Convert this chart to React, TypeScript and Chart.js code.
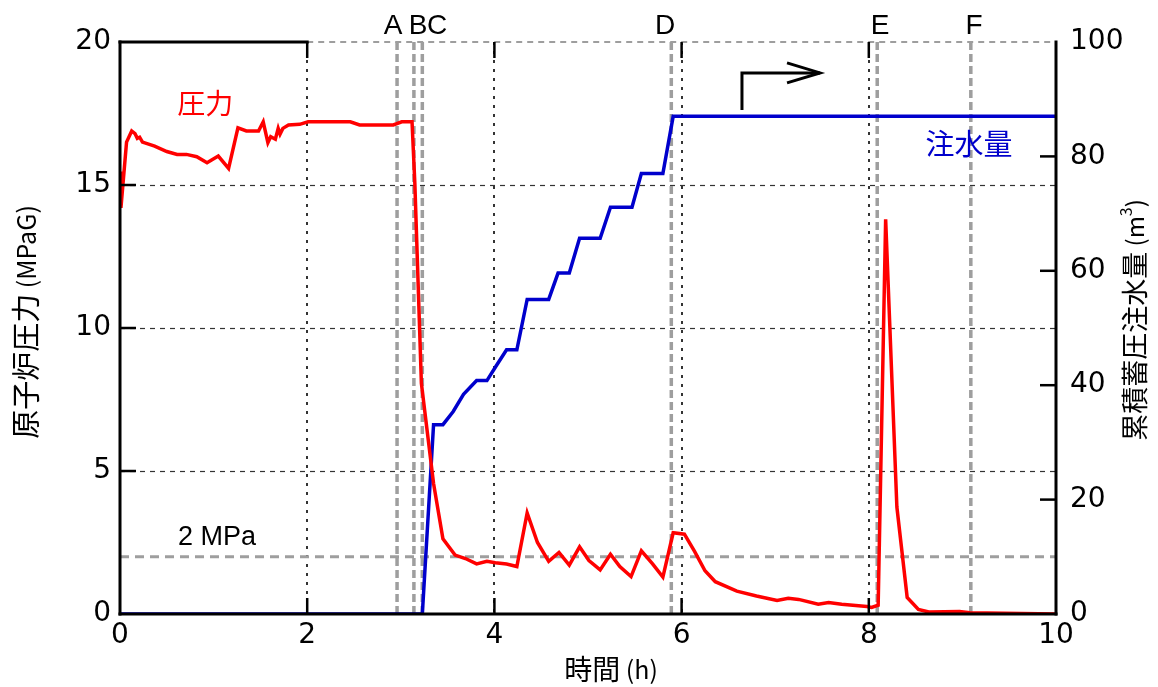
import React, { useEffect, useRef } from 'react';
import { Chart, registerables } from 'chart.js';

Chart.register(...registerables);

// ---- data (hours) ----
const pressureTime = [
  0, 0.01, 0.07, 0.125, 0.16, 0.185, 0.21, 0.24,
  0.37, 0.5, 0.61, 0.71, 0.82, 0.93, 1.05, 1.16,
  1.26, 1.35, 1.48, 1.53, 1.58, 1.61, 1.66, 1.69,
  1.71, 1.74, 1.8, 1.92, 2.01, 2.46, 2.56, 2.92,
  3.01, 3.12, 3.15, 3.22, 3.35, 3.45, 3.58, 3.69,
  3.81, 3.92, 4.01, 4.13, 4.24, 4.35, 4.46, 4.58,
  4.69, 4.8, 4.91, 5.01, 5.13, 5.24, 5.34, 5.46,
  5.57, 5.69, 5.8, 5.91, 6.03, 6.14, 6.25, 6.36,
  6.59, 6.8, 7.02, 7.14, 7.25, 7.46, 7.57, 7.71,
  7.98, 8.03, 8.1, 8.18, 8.3, 8.41, 8.53, 8.64,
  8.97, 9.08, 10,
];
const pressureValues = [
  15.47, 14.2, 16.5, 16.89, 16.8, 16.63, 16.67, 16.5,
  16.36, 16.17, 16.07, 16.07, 15.99, 15.78, 16.01, 15.58,
  17.0, 16.89, 16.89, 17.21, 16.48, 16.69, 16.6, 16.98,
  16.78, 16.98, 17.1, 17.12, 17.21, 17.21, 17.1, 17.1,
  17.21, 17.21, 15.06, 8.06, 4.56, 2.63, 2.06, 1.94,
  1.75, 1.84, 1.79, 1.75, 1.66, 3.53, 2.5, 1.84,
  2.15, 1.71, 2.35, 1.87, 1.54, 2.09, 1.66, 1.31,
  2.21, 1.75, 1.29, 2.84, 2.79, 2.18, 1.51, 1.13,
  0.8, 0.63, 0.47, 0.55, 0.51, 0.34, 0.4, 0.34,
  0.26, 0.23, 0.31, 13.8, 3.74, 0.58, 0.16, 0.07,
  0.09, 0.04, 0.0,
];
const waterTime = [
  0, 3.23, 3.35, 3.45, 3.56, 3.67, 3.81, 3.92, 4.02, 4.13, 4.24, 4.35,
  4.58, 4.68, 4.8, 4.91, 5.13, 5.24, 5.47, 5.57, 5.8, 5.91, 10,
];
const waterValues = [
  0, 0, 33.1, 33.1, 35.4, 38.4, 40.8, 40.8, 43.4, 46.2, 46.2, 55.0,
  55.0, 59.6, 59.6, 65.7, 65.7, 71.1, 71.1, 77.0, 77.0, 87.0, 87.0,
];

const eventTimes = [2.96, 3.14, 3.23, 5.89, 8.09, 9.09];
const eventLabels = ['A', 'B', 'C', 'D', 'E', 'F'];
const eventLabelTimes = [2.917, 3.184, 3.387, 5.823, 8.12, 9.124];

const xGridTicks = [2, 4, 6, 8];
const leftGridTicks = [5, 10, 15];
const rightInnerTicks = [20, 40, 60, 80];

const refPressure = 2;
const refLabel = '2 MPa';
const pressureLabel = '圧力';
const waterLabel = '注水量';
const leftTitleMain = '原子炉圧力';
const leftTitleUnit = ' (MPaG)';
const rightTitleMain = '累積蓄圧注水量';
const bottomTitleMain = '時間';
const bottomTitleUnit = ' (h)';

const RED = '#ff0000';
const BLUE = '#0000cc';
const GRAY = '#9e9e9e';
const CJK = '"Noto Sans CJK JP", "Noto Sans", sans-serif';
const SANS = '"Liberation Sans", Arial, sans-serif';

function seg(ctx: CanvasRenderingContext2D, x1: number, y1: number, x2: number, y2: number) {
  ctx.beginPath();
  ctx.moveTo(x1, y1);
  ctx.lineTo(x2, y2);
  ctx.stroke();
}

type Part = { text: string; font: string; dy: number };

function drawParts(ctx: CanvasRenderingContext2D, cx: number, cy: number, rot: number, parts: Part[], color: string) {
  ctx.save();
  ctx.translate(cx, cy);
  ctx.rotate(rot);
  ctx.fillStyle = color;
  ctx.textBaseline = 'middle';
  ctx.textAlign = 'left';
  let total = 0;
  const widths = parts.map((p) => {
    ctx.font = p.font;
    const w = ctx.measureText(p.text).width;
    total += w;
    return w;
  });
  let pos = -total / 2;
  parts.forEach((p, i) => {
    ctx.font = p.font;
    ctx.fillText(p.text, pos, p.dy);
    pos += widths[i];
  });
  ctx.restore();
}

const overlay = {
  id: 'overlay',
  beforeDatasetsDraw(chart: any) {
    const { ctx, chartArea: a, scales } = chart;
    const x = scales.x;
    const y = scales.y;
    ctx.save();
    ctx.strokeStyle = '#333';
    ctx.lineWidth = 1.2;
    ctx.setLineDash([5, 5]);
    leftGridTicks.forEach((v) => {
      const py = Math.round(y.getPixelForValue(v)) + 0.5;
      seg(ctx, a.left, py, a.right, py);
    });
    ctx.lineWidth = 2;
    ctx.setLineDash([3, 6]);
    xGridTicks.forEach((v) => {
      const px = Math.round(x.getPixelForValue(v));
      seg(ctx, px, a.top, px, a.bottom);
    });
    ctx.strokeStyle = GRAY;
    ctx.lineWidth = 3;
    ctx.setLineDash([9, 6]);
    const ry = y.getPixelForValue(refPressure);
    seg(ctx, a.left, ry, a.right, ry);
    ctx.lineWidth = 3.5;
    ctx.setLineDash([8, 4]);
    eventTimes.forEach((t) => {
      const px = x.getPixelForValue(t);
      seg(ctx, px, a.top, px, a.bottom);
    });
    ctx.lineWidth = 2;
    ctx.setLineDash([6, 5]);
    seg(ctx, x.getPixelForValue(2), a.top, a.right, a.top);
    ctx.restore();
  },
  afterDatasetsDraw(chart: any) {
    const { ctx, chartArea: a, scales } = chart;
    const x = scales.x;
    const y = scales.y;
    const y1 = scales.y1;
    ctx.save();
    ctx.strokeStyle = '#000';
    ctx.setLineDash([]);
    ctx.lineWidth = 3;
    ctx.lineCap = 'square';
    seg(ctx, a.left, a.top, a.left, a.bottom);
    seg(ctx, a.left, a.bottom, a.right, a.bottom);
    seg(ctx, a.right, a.top, a.right, a.bottom);
    seg(ctx, a.left, a.top, x.getPixelForValue(2), a.top);
    ctx.lineCap = 'butt';
    const TL = 16;
    ctx.lineWidth = 2.5;
    leftGridTicks.forEach((v) => {
      const py = y.getPixelForValue(v);
      seg(ctx, a.left, py, a.left + TL, py);
    });
    rightInnerTicks.forEach((v) => {
      const py = y1.getPixelForValue(v);
      seg(ctx, a.right, py, a.right - TL, py);
    });
    xGridTicks.forEach((v) => {
      const px = x.getPixelForValue(v);
      seg(ctx, px, a.bottom, px, a.bottom - TL);
      seg(ctx, px, a.top, px, a.top + TL);
    });

    ctx.fillStyle = '#000';
    ctx.font = `28px ${SANS}`;
    ctx.textAlign = 'center';
    ctx.textBaseline = 'alphabetic';
    eventLabels.forEach((l, i) => {
      ctx.fillText(l, x.getPixelForValue(eventLabelTimes[i]), a.top - 8);
    });
    ctx.font = `27px ${SANS}`;
    ctx.textAlign = 'left';
    ctx.fillText(refLabel, x.getPixelForValue(0.62), y.getPixelForValue(refPressure) - 12);

    ctx.textAlign = 'center';
    ctx.textBaseline = 'middle';
    ctx.fillStyle = RED;
    ctx.font = `28px ${CJK}`;
    ctx.fillText(pressureLabel, x.getPixelForValue(0.91), y.getPixelForValue(17.87));
    ctx.fillStyle = BLUE;
    ctx.font = `29px ${CJK}`;
    ctx.fillText(waterLabel, x.getPixelForValue(9.07), y1.getPixelForValue(82.2));

    ctx.strokeStyle = '#000';
    ctx.lineWidth = 3;
    ctx.lineJoin = 'miter';
    const ax0 = x.getPixelForValue(6.645);
    const ax1 = x.getPixelForValue(7.479);
    const ayb = y.getPixelForValue(17.62);
    const ayt = y.getPixelForValue(18.92);
    ctx.beginPath();
    ctx.moveTo(ax0, ayb);
    ctx.lineTo(ax0, ayt);
    ctx.lineTo(ax1, ayt);
    ctx.stroke();
    ctx.beginPath();
    ctx.moveTo(ax1 - 33, ayt - 10);
    ctx.lineTo(ax1, ayt);
    ctx.lineTo(ax1 - 33, ayt + 10);
    ctx.stroke();

    drawParts(ctx, 26, 322, -Math.PI / 2, [
      { text: leftTitleMain, font: `29px ${CJK}`, dy: 0 },
      { text: leftTitleUnit, font: `25px ${CJK}`, dy: 0 },
    ], '#000');
    drawParts(ctx, 1135, 320, -Math.PI / 2, [
      { text: rightTitleMain, font: `27px ${CJK}`, dy: 0 },
      { text: ' (m', font: `24px ${CJK}`, dy: 0 },
      { text: '3', font: `16px ${CJK}`, dy: -9 },
      { text: ')', font: `24px ${CJK}`, dy: 0 },
    ], '#000');
    drawParts(ctx, 611, 669, 0, [
      { text: bottomTitleMain, font: `28px ${CJK}`, dy: 0 },
      { text: bottomTitleUnit, font: `25px ${CJK}`, dy: 0 },
    ], '#000');
    ctx.restore();
  },
};

export default function App() {
  const ref = useRef<HTMLCanvasElement | null>(null);
  useEffect(() => {
    document.body.style.margin = '0';
    const canvas = ref.current;
    if (!canvas) return;
    const tickFont = { family: '"DejaVu Sans", Verdana, sans-serif', size: 28 };
    const chart = new Chart(canvas, {
      type: 'line',
      data: {
        datasets: [
          {
            label: pressureLabel,
            data: pressureTime.map((t, i) => ({ x: t, y: pressureValues[i] })),
            borderColor: RED,
            backgroundColor: RED,
            borderWidth: 3.5,
            pointRadius: 0,
            tension: 0,
            yAxisID: 'y',
          },
          {
            label: waterLabel,
            data: waterTime.map((t, i) => ({ x: t, y: waterValues[i] })),
            borderColor: BLUE,
            backgroundColor: BLUE,
            borderWidth: 3.5,
            pointRadius: 0,
            tension: 0,
            yAxisID: 'y1',
          },
        ],
      },
      options: {
        responsive: false,
        animation: false,
        devicePixelRatio: 1,
        layout: { padding: { top: 42, left: 0, right: 0, bottom: 0 } },
        plugins: { legend: { display: false }, tooltip: { enabled: false } },
        scales: {
          x: {
            type: 'linear',
            min: 0,
            max: 10,
            ticks: { stepSize: 2, font: tickFont, color: '#000', padding: 5, maxRotation: 0 },
            grid: { display: false, drawTicks: false },
            border: { display: false },
            afterFit: (s: any) => { s.height = 73; },
          },
          y: {
            type: 'linear',
            position: 'left',
            min: 0,
            max: 20,
            ticks: { stepSize: 5, font: tickFont, color: '#000', padding: 9 },
            grid: { display: false, drawTicks: false },
            border: { display: false },
            afterFit: (s: any) => { s.width = 120; },
          },
          y1: {
            type: 'linear',
            position: 'right',
            min: 0,
            max: 100,
            ticks: { stepSize: 20, font: tickFont, color: '#000', padding: 14 },
            grid: { display: false, drawTicks: false },
            border: { display: false },
            afterFit: (s: any) => { s.width = 102; },
          },
        },
      },
      plugins: [overlay],
    } as any);
    return () => chart.destroy();
  }, []);
  return (
    <div style={{ width: 1158, height: 687 }}>
      <canvas ref={ref} width={1158} height={687} style={{ display: 'block', width: 1158, height: 687 }} />
    </div>
  );
}
